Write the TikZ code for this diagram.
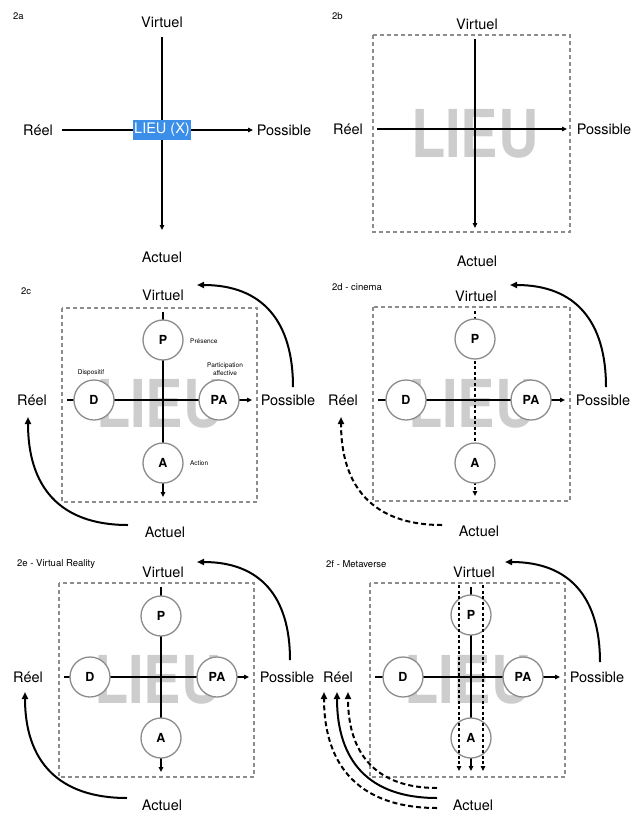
\documentclass[tikz,border=0pt]{standalone}
\usepackage{fontspec}
\setmainfont{TeX Gyre Heros}
\usetikzlibrary{arrows.meta}
\definecolor{lieublue}{RGB}{59,143,232}
\definecolor{framegray}{RGB}{140,140,140}
\definecolor{lieugray}{RGB}{205,205,205}
\begin{document}
\begin{tikzpicture}[x=1pt, y=-1pt,
	axis/.style = {line width=1.3pt, -{Triangle[length=5pt,width=4.5pt]}},
	dotaxis/.style = {axis, dash pattern=on 3pt off 2.5pt},
	curvearrow/.style = {line width=2pt, -{Triangle[length=7pt,width=6pt]}},
	dotcurve/.style = {curvearrow, dash pattern=on 5pt off 3pt},
	lieubox/.style = {draw=framegray, line width=1.3pt, dash pattern=on 4pt off 3pt},
	lieu/.style = {text=lieugray, font=\fontsize{66}{66}\selectfont\bfseries, xscale=0.85, inner sep=0pt},
	xlieu/.style = {fill=lieublue, text=white, minimum width=58pt, minimum height=20pt, inner sep=0pt, font=\fontsize{14.5}{17}\selectfont},
	pole/.style = {font=\fontsize{14.5}{17}\selectfont, inner sep=0pt, text height=10.5pt, text depth=0pt},
	tag/.style = {anchor=west, font=\fontsize{9.5}{11}\selectfont, inner sep=0pt},
	note/.style = {font=\fontsize{6.5}{7.5}\selectfont, inner sep=0pt, align=center},
	circ/.style = {circle, draw=framegray, line width=1.3pt, fill=white, minimum size=40pt, inner sep=0pt, font=\fontsize{12.5}{14}\selectfont\bfseries}]
	\useasboundingbox (0,0) rectangle (641,814);

	% panel tags
	\node (tagA) at ( 13,  16)	[tag]	{2a};
	\node (tagB) at (332,  16)	[tag]	{2b};
	\node (tagC) at ( 21, 291)	[tag]	{2c};
	\node (tagD) at (332, 287)	[tag]	{2d - cinema};
	\node (tagE) at ( 17, 564)	[tag]	{2e - Virtual Reality};
	\node (tagF) at (326, 564)	[tag]	{2f - Metaverse};

	% 2a
	\begin{scope}[shift={(61,37)}]
		\coordinate (westA) at (  1,  93);
		\coordinate (eastA) at (192,  93);
		\coordinate (northA) at (101,   0);
		\coordinate (southA) at (101, 193);
		\draw[axis] (westA) -- (eastA);
		\draw[axis] (northA) -- (southA);
		\node (lieuA) at (101,  93)	[xlieu]	{LIEU (X)};
		\node (virA) at (101, -15)	[pole]	{Virtuel};
		\node (actA) at (101, 220)	[pole]	{Actuel};
		\node (reeA) at (-23,  93)	[pole]	{Réel};
		\node (posA) at (223,  93)	[pole]	{Possible};
	\end{scope}

	% 2b
	\begin{scope}[shift={(373,35)}]
		\node (lieuB) at (102,  99)	[lieu]	{LIEU};
		\draw[lieubox] (0,0) rectangle (197,197);
		\coordinate (westB) at (  4,  94);
		\coordinate (eastB) at (194,  94);
		\coordinate (northB) at (102,   4);
		\coordinate (southB) at (102, 193);
		\draw[axis] (westB) -- (eastB);
		\draw[axis] (northB) -- (southB);
		\node (virB) at (104, -11)	[pole]	{Virtuel};
		\node (actB) at (104, 226)	[pole]	{Actuel};
		\node (reeB) at (-25,  94)	[pole]	{Réel};
		\node (posB) at (231,  94)	[pole]	{Possible};
	\end{scope}

	% 2c
	\begin{scope}[shift={(62,308)}]
		\node (lieuC) at ( 98,  96)	[lieu]	{LIEU};
		\draw[lieubox] (0,0) rectangle (195,194);
		\coordinate (westC) at (  5,  92);
		\coordinate (eastC) at (190,  92);
		\coordinate (northC) at (101,   4);
		\coordinate (southC) at (101, 189);
		\draw[axis] (westC) -- (eastC);
		\draw[axis] (northC) -- (southC);
		\node (prC) at (101,  32)	[circ]	{P};
		\node (acC) at (101, 155)	[circ]	{A};
		\node (diC) at ( 32,  92)	[circ]	{D};
		\node (paC) at (157,  92)	[circ]	{PA};
		\node (noteP) at (128,  33)	[note, anchor=west]	{Présence};
		\node (noteA) at (128, 155)	[note, anchor=west]	{Action};
		\node (noteD) at ( 29,  65)	[note]	{Dispositif};
		\node (notePA) at (163,  61)	[note]	{Participation\\affective};
		\node (virC) at (101, -13)	[pole]	{Virtuel};
		\node (actC) at (103, 224)	[pole]	{Actuel};
		\node (reeC) at (-30,  92)	[pole]	{Réel};
		\node (posC) at (226,  92)	[pole]	{Possible};
		\coordinate (fromPosC) at (231,  79);
		\coordinate (toVirC) at (135, -23);
		\coordinate (fromActC) at ( 66, 217);
		\coordinate (toReeC) at (-34, 109);
		\draw[curvearrow] (fromPosC) to[out=90, in=0, looseness=1.2] (toVirC);
		\draw[curvearrow] (fromActC) to[out=180, in=-90, looseness=1.2] (toReeC);
	\end{scope}

	% 2d
	\begin{scope}[shift={(373,307)}]
		\node (lieuD) at ( 99,  97)	[lieu]	{LIEU};
		\draw[lieubox] (0,0) rectangle (197,194);
		\coordinate (westD) at (  5,  93);
		\coordinate (eastD) at (192,  93);
		\coordinate (northD) at (102,   4);
		\coordinate (southD) at (102, 189);
		\draw[axis] (westD) -- (eastD);
		\draw[dotaxis] (northD) -- (southD);
		\node (prD) at (102,  32)	[circ]	{P};
		\node (acD) at (102, 156)	[circ]	{A};
		\node (diD) at ( 33,  93)	[circ]	{D};
		\node (paD) at (158,  93)	[circ]	{PA};
		\node (virD) at (103, -11)	[pole]	{Virtuel};
		\node (actD) at (106, 224)	[pole]	{Actuel};
		\node (reeD) at (-30,  93)	[pole]	{Réel};
		\node (posD) at (230,  93)	[pole]	{Possible};
		\coordinate (fromPosD) at (233,  80);
		\coordinate (toVirD) at (137, -22);
		\coordinate (fromActD) at ( 69, 218);
		\coordinate (toReeD) at (-32, 110);
		\draw[curvearrow] (fromPosD) to[out=90, in=0, looseness=1.2] (toVirD);
		\draw[dotcurve] (fromActD) to[out=180, in=-90, looseness=1.2] (toReeD);
	\end{scope}

	% 2e
	\begin{scope}[shift={(59,583)}]
		\node (lieuE) at ( 99,  97)	[lieu]	{LIEU};
		\draw[lieubox] (0,0) rectangle (195,194);
		\coordinate (westE) at (  5,  94);
		\coordinate (eastE) at (190,  94);
		\coordinate (northE) at (102,   4);
		\coordinate (southE) at (102, 189);
		\draw[axis] (westE) -- (eastE);
		\draw[axis] (northE) -- (southE);
		\node (prE) at (102,  33)	[circ]	{P};
		\node (acE) at (102, 155)	[circ]	{A};
		\node (diE) at ( 31,  94)	[circ]	{D};
		\node (paE) at (158,  94)	[circ]	{PA};
		\node (virE) at (104, -11)	[pole]	{Virtuel};
		\node (actE) at (103, 222)	[pole]	{Actuel};
		\node (reeE) at (-31,  94)	[pole]	{Réel};
		\node (posE) at (228,  94)	[pole]	{Possible};
		\coordinate (fromPosE) at (231,  77);
		\coordinate (toVirE) at (138, -21);
		\coordinate (fromActE) at ( 68, 215);
		\coordinate (toReeE) at (-34, 109);
		\draw[curvearrow] (fromPosE) to[out=90, in=0, looseness=1.2] (toVirE);
		\draw[curvearrow] (fromActE) to[out=180, in=-90, looseness=1.2] (toReeE);
	\end{scope}

	% 2f
	\begin{scope}[shift={(370,583)}]
		\node (lieuF) at ( 98,  97)	[lieu]	{LIEU};
		\draw[lieubox] (0,0) rectangle (195,194);
		\coordinate (westF) at (  5,  94);
		\coordinate (eastF) at (190,  94);
		\coordinate (northF) at (101,   4);
		\coordinate (southF) at (101, 188);
		\draw[axis] (westF) -- (eastF);
		\draw[axis] (northF) -- (southF);
		\node (prF) at (101,  32)	[circ]	{P};
		\node (acF) at (101, 155)	[circ]	{A};
		\node (diF) at ( 33,  94)	[circ]	{D};
		\node (paF) at (153,  94)	[circ]	{PA};
		\coordinate (northLF) at ( 89,   2);
		\coordinate (southLF) at ( 89, 188);
		\coordinate (northRF) at (113,   2);
		\coordinate (southRF) at (113, 188);
		\draw[dotaxis, line width=1.2pt] (northLF) -- (southLF);
		\draw[dotaxis, line width=1.2pt] (northRF) -- (southRF);
		\node (virF) at (104, -11)	[pole]	{Virtuel};
		\node (actF) at (103, 222)	[pole]	{Actuel};
		\node (reeF) at (-32,  94)	[pole]	{Réel};
		\node (posF) at (227,  94)	[pole]	{Possible};
		\coordinate (fromPosF) at (230,  79);
		\coordinate (toVirF) at (135, -21);
		\coordinate (fromActF) at ( 67, 215);
		\coordinate (toReeF) at (-33, 109);
		\coordinate (fromActOF) at ( 67, 225);
		\coordinate (toReeOF) at (-46, 109);
		\coordinate (fromActIF) at ( 67, 205);
		\coordinate (toReeIF) at (-22, 109);
		\draw[curvearrow] (fromPosF) to[out=90, in=0, looseness=1.2] (toVirF);
		\draw[curvearrow] (fromActF) to[out=180, in=-90, looseness=1.2] (toReeF);
		\draw[dotcurve] (fromActOF) to[out=180, in=-90, looseness=1.2] (toReeOF);
		\draw[dotcurve] (fromActIF) to[out=180, in=-90, looseness=1.2] (toReeIF);
	\end{scope}
\end{tikzpicture}
\end{document}
